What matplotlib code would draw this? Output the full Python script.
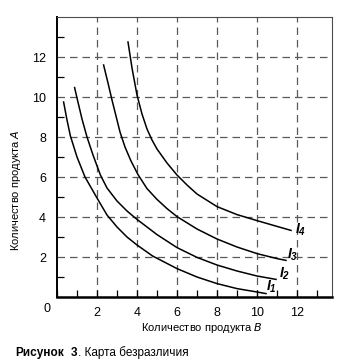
import matplotlib
matplotlib.use("Agg")
import matplotlib.pyplot as plt
from matplotlib.ticker import MultipleLocator, FixedLocator

plt.rcParams['font.family'] = ['Liberation Sans Narrow', 'Liberation Sans', 'DejaVu Sans']
plt.rcParams['mathtext.fontset'] = 'custom'
plt.rcParams['mathtext.it'] = 'Liberation Sans Narrow:italic'
plt.rcParams['mathtext.rm'] = 'Liberation Sans Narrow'
plt.rcParams['mathtext.bf'] = 'Liberation Sans:italic:bold'

# indifference curves, quantity of B (x) vs quantity of A (y)
i1_b = [0.33, 0.5, 0.67, 1.0, 1.4, 2.0, 2.5, 3.0, 3.5, 4.0, 4.78, 6.0, 7.0, 8.0, 9.0, 10.0, 10.45]
i1_a = [9.75, 8.85, 8.05, 7.0, 6.0, 4.95, 4.1, 3.5, 3.0, 2.6, 2.05, 1.42, 1.0, 0.67, 0.42, 0.25, 0.17]

i2_b = [0.88, 1.0, 1.25, 1.5, 1.8, 2.17, 2.5, 3.0, 3.5, 4.0, 5.0, 6.0, 7.0, 8.0, 9.0, 10.0, 10.95]
i2_a = [10.47, 9.95, 8.9, 8.0, 7.1, 6.1, 5.45, 4.8, 4.3, 3.88, 3.12, 2.47, 1.98, 1.6, 1.3, 1.05, 0.88]

i3_b = [2.33, 2.55, 2.75, 2.95, 3.15, 3.4, 3.7, 4.05, 4.5, 5.0, 5.5, 6.0, 7.0, 8.0, 9.0, 10.0, 11.0, 11.45]
i3_a = [11.6, 10.7, 9.85, 9.05, 8.25, 7.5, 6.8, 6.12, 5.42, 4.88, 4.42, 4.02, 3.4, 2.9, 2.5, 2.17, 1.92, 1.83]

i4_b = [3.55, 3.75, 4.0, 4.25, 4.5, 4.75, 5.0, 5.5, 6.0, 6.5, 7.0, 8.0, 9.0, 10.0, 11.0, 11.7]
i4_a = [12.75, 11.45, 10.1, 9.15, 8.4, 7.85, 7.4, 6.7, 6.1, 5.6, 5.15, 4.52, 4.12, 3.82, 3.53, 3.33]

curves = [(i1_b, i1_a), (i2_b, i2_a), (i3_b, i3_a), (i4_b, i4_a)]
curve_labels = ['$\\mathbf{I_1}$', '$\\mathbf{I_2}$', '$\\mathbf{I_3}$', '$\\mathbf{I_4}$']
label_pos = [(10.45, 0.3), (11.1, 0.95), (11.5, 1.9), (11.9, 3.15)]

fig = plt.figure(figsize=(3.42, 3.64), dpi=100)
ax = fig.add_axes([57 / 342, 67 / 364, 275 / 342, 280 / 364])

ax.set_xlim(0, 13.75)
ax.set_ylim(0, 14)

for b, a in curves:
    ax.plot(b, a, '-', color='black', linewidth=1.1)

for (x, y), lab in zip(label_pos, curve_labels):
    ax.text(x, y, lab, fontsize=10, ha='left', va='baseline')

ax.xaxis.set_major_locator(FixedLocator([2, 4, 6, 8, 10, 12]))
ax.xaxis.set_minor_locator(MultipleLocator(1))
ax.yaxis.set_major_locator(FixedLocator([2, 4, 6, 8, 10, 12]))
ax.yaxis.set_minor_locator(FixedLocator([1, 3, 5, 7, 9, 11, 13]))

ax.grid(True, which='major', linestyle=(0, (6, 4)), color='0.35', linewidth=0.9)
ax.tick_params(which='both', direction='in', length=5, width=0.9, labelsize=9, pad=6,
               colors='black')
ax.tick_params(axis='y', which='major', length=0, pad=8)
ax.tick_params(axis='x', which='major', pad=7)

for side in ['top', 'right']:
    ax.spines[side].set_linewidth(0.8)
    ax.spines[side].set_color('0.3')
ax.spines['bottom'].set_linewidth(1.8)
ax.spines['left'].set_linewidth(1.4)

ax.text(-0.35, -0.3, '0', fontsize=9, ha='right', va='top')

ax.set_xlabel('Количество продукта $\\it{B}$', fontsize=8, labelpad=6)
ax.xaxis.set_label_coords(0.527, -0.085)
ax.set_ylabel('Количество продукта $\\it{A}$', fontsize=8)
ax.yaxis.set_label_coords(-0.125, 0.38)

fig.text(15 / 342, 1 - 353 / 364, 'Рисунок', fontsize=8.5, fontweight='bold',
         family=['Liberation Sans', 'DejaVu Sans'], va='center')
fig.text(71 / 342, 1 - 353 / 364, '3', fontsize=8.5, fontweight='bold',
         family=['Liberation Sans', 'DejaVu Sans'], va='center')
fig.text(78 / 342, 1 - 353 / 364, '. Карта безразличия', fontsize=8.5, va='center')

fig.savefig('out.png', dpi=100)
